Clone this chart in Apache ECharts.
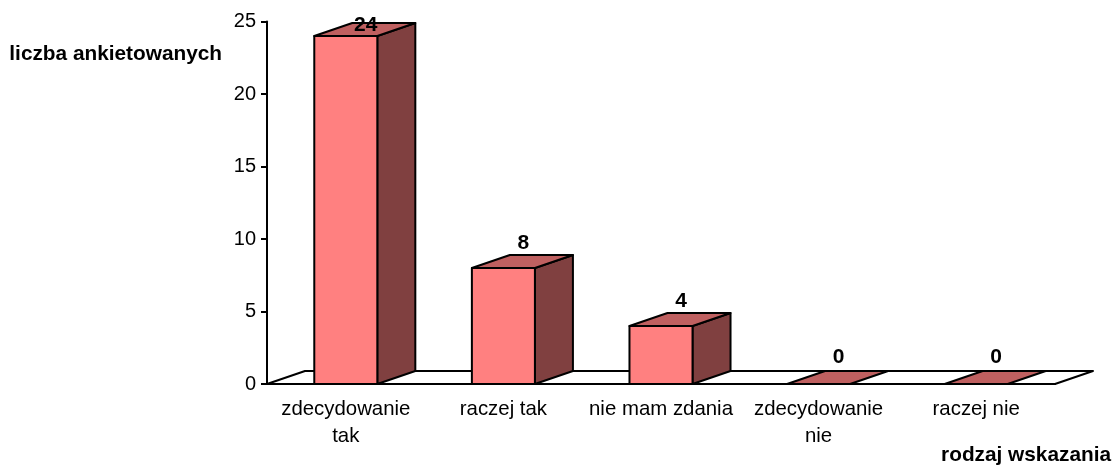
<!DOCTYPE html>
<html>
<head>
<meta charset="utf-8">
<style>
  html, body { margin: 0; padding: 0; background: #fff; }
  #chart { width: 1114px; height: 466px; }
</style>
<script src="https://cdn.jsdelivr.net/npm/echarts@6/dist/echarts.min.js"></script>
</head>
<body>
<div id="chart"></div>
<script>
const categories = ['zdecydowanie\ntak', 'raczej tak', 'nie mam zdania', 'zdecydowanie\nnie', 'raczej nie'];
const counts = [24, 8, 4, 0, 0];
const yTicks = { min: 0, max: 25, interval: 5 };
const yName = 'liczba ankietowanych';
const xName = 'rodzaj wskazania';

// 3D look of the old spreadsheet chart
const DEPTH_X = 38;
const DEPTH_Y = 13;
const BAR_SHARE = 0.4;
const FONT = '"Liberation Sans", Arial, sans-serif';
const edge = { stroke: '#000', lineWidth: 2, lineJoin: 'round' };

function face(points, fill) {
  return { type: 'polygon', shape: { points }, style: { fill, ...edge } };
}

function renderFloor(params) {
  const { x, y, width, height } = params.coordSys;
  const bottom = y + height;
  return face([
    [x, bottom],
    [x + DEPTH_X, bottom - DEPTH_Y],
    [x + width + DEPTH_X, bottom - DEPTH_Y],
    [x + width, bottom]
  ], '#fff');
}

function renderBar(params, api) {
  const value = api.value(1);
  const base = api.coord([api.value(0), 0]);
  const top = api.coord([api.value(0), value]);
  const w = api.size([1, 0])[0] * BAR_SHARE;
  const l = base[0] - w / 2;
  const r = base[0] + w / 2;
  const children = [];

  if (value > 0) {
    children.push(face([[r, base[1]], [r + DEPTH_X, base[1] - DEPTH_Y], [r + DEPTH_X, top[1] - DEPTH_Y], [r, top[1]]], '#804040'));
    children.push(face([[l, base[1]], [r, base[1]], [r, top[1]], [l, top[1]]], '#ff8080'));
  }
  children.push(face([[l, top[1]], [l + DEPTH_X, top[1] - DEPTH_Y], [r + DEPTH_X, top[1] - DEPTH_Y], [r, top[1]]], '#bf6060'));

  // label sits over the back edge, but stays inside the chart at the tallest bar
  const gap = value > 0 ? 12 : 14;
  const labelY = Math.max(top[1] - DEPTH_Y - gap, params.coordSys.y + 3.5);
  children.push({
    type: 'text',
    z2: 10,
    style: {
      x: base[0] + DEPTH_X / 2 + 1,
      y: labelY,
      text: String(value),
      font: 'bold 21px ' + FONT,
      fill: '#000',
      align: 'center',
      verticalAlign: 'middle'
    }
  });
  return { type: 'group', children };
}

const chart = echarts.init(document.getElementById('chart'));
chart.setOption({
  animation: false,
  backgroundColor: '#fff',
  textStyle: { fontFamily: FONT },
  grid: { left: 267, right: 58, top: 21.5, bottom: 82 },
  xAxis: {
    type: 'category',
    data: categories,
    name: xName,
    nameLocation: 'end',
    nameGap: 56,
    nameTextStyle: { fontFamily: FONT, fontSize: 20.8, fontWeight: 'bold', color: '#000', align: 'right', verticalAlign: 'top', padding: [61, 0, 0, 0] },
    axisLine: { lineStyle: { color: '#000', width: 2 } },
    axisTick: { length: 7, lineStyle: { color: '#000', width: 2 } },
    axisLabel: { color: '#000', fontSize: 20.4, margin: 12, lineHeight: 27, interval: 0 },
    splitLine: { show: false },
    z: 5
  },
  yAxis: {
    type: 'value',
    min: yTicks.min,
    max: yTicks.max,
    interval: yTicks.interval,
    name: yName,
    nameLocation: 'end',
    nameGap: -33,
    nameTextStyle: { fontFamily: FONT, fontSize: 20.8, fontWeight: 'bold', color: '#000', align: 'right', verticalAlign: 'middle', padding: [0, 45, 0, 0] },
    axisLine: { show: true, lineStyle: { color: '#000', width: 2 } },
    axisTick: { show: true, length: 6, lineStyle: { color: '#000', width: 2 } },
    axisLabel: { color: '#000', fontSize: 20, margin: 11 },
    splitLine: { show: false },
    z: 5
  },
  series: [
    { type: 'custom', silent: true, z: 1, coordinateSystem: 'cartesian2d', renderItem: renderFloor, data: [[0, 0]], encode: { x: 0, y: 1 } },
    { type: 'custom', silent: true, z: 2, coordinateSystem: 'cartesian2d', renderItem: renderBar, data: counts.map((v, i) => [i, v]), encode: { x: 0, y: 1 } }
  ]
});
</script>
</body>
</html>
